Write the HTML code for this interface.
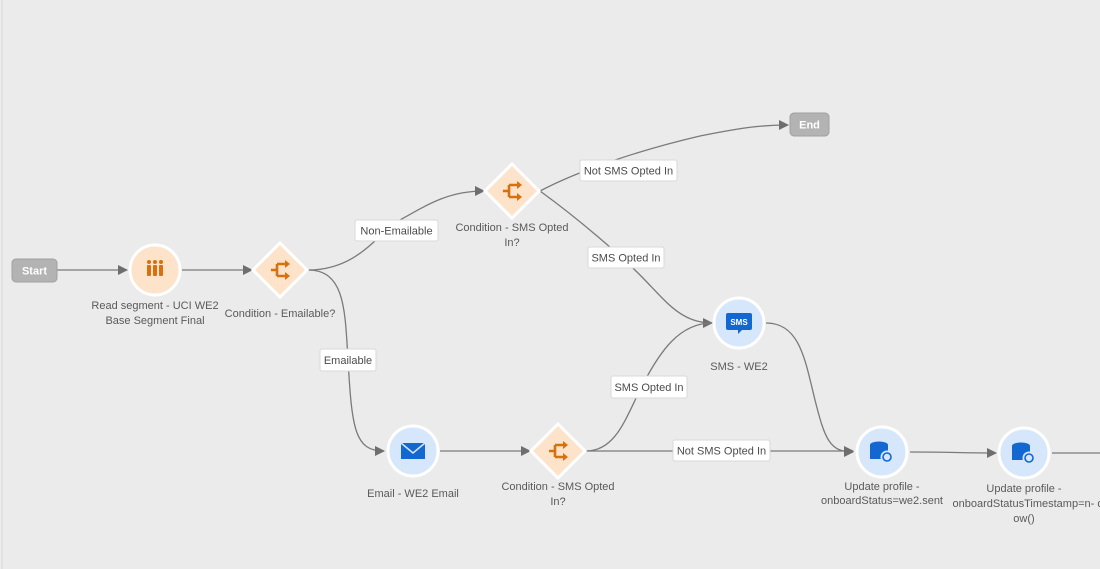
<!DOCTYPE html>
<html><head><style>
body{margin:0;width:1100px;height:569px;background:#ebebeb;overflow:hidden;font-family:"Liberation Sans",sans-serif;}
svg{position:absolute;left:0;top:0}
.t{font-size:11px;fill:#5a5a5a;text-anchor:middle}
.lb{fill:#fff;stroke:#d8d8d8;stroke-width:1}
.lt{font-size:11px;fill:#4b4b4b;text-anchor:middle}
</style></head><body>
<svg width="1100" height="569" viewBox="0 0 1100 569">
<defs><marker id="a" markerWidth="10" markerHeight="10" refX="9" refY="5" orient="auto" markerUnits="userSpaceOnUse"><path d="M0,0 L10,5 L0,10z" fill="#6e6e6e"/></marker>
<g id="d"><path d="M0,-27 L27,0 L0,27 L-27,0z" fill="#fce3c9" stroke="#fff" stroke-width="3"/><path d="M-9,0 H-3 M-3,-6 V6 M-3,-6 H7 M-3,6 H7" stroke="#d8700f" stroke-width="2.6" fill="none"/><path d="M5,-10 L10,-6 L5,-2z M5,2 L10,6 L5,10z" fill="#d8700f"/></g>
<g id="u"><circle r="25" fill="#d6e6fb" stroke="#fff" stroke-width="3"/><ellipse cx="-3" cy="-7" rx="9" ry="3.5" fill="#1367d1"/><rect x="-12" y="-7" width="18" height="14" fill="#1367d1"/><circle cx="5" cy="5" r="6.5" fill="#d6e6fb"/><circle cx="5" cy="5" r="4" fill="none" stroke="#1367d1" stroke-width="1.6"/></g>
</defs>
<line x1="2" y1="0" x2="2" y2="569" stroke="#e2e2e2" stroke-width="2"/>
<g fill="none" stroke="#7a7a7a" stroke-width="1.3">
<path d="M57,270 H127" marker-end="url(#a)"/>
<path d="M182,270 H252" marker-end="url(#a)"/>
<path d="M308,270 C360,270 380,230 400,220 C430,203 450,191 484,191" marker-end="url(#a)"/>
<path d="M308,270 C345,270 345,310 348,360 C352,430 355,451 384,451" marker-end="url(#a)"/>
<path d="M540,191 C580,170 640,150 700,136 C740,128 760,125 788,125" marker-end="url(#a)"/>
<path d="M540,191 C580,220 620,255 640,275 C665,300 680,323 712,323" marker-end="url(#a)"/>
<path d="M440,451 H530" marker-end="url(#a)"/>
<path d="M586,451 C615,451 625,420 640,390 C660,350 680,323 712,323"/>
<path d="M586,451 H853" marker-end="url(#a)"/>
<path d="M766,323 C800,323 805,360 815,400 C825,440 830,452 853,452" marker-end="url(#a)"/>
<path d="M910,452 C950,452 960,453 996,453" marker-end="url(#a)"/>
<path d="M1052,453 H1100"/>
</g>
<rect x="12" y="259" width="45" height="23" rx="4" fill="#b3b3b3" stroke="#a0a0a0"/>
<text x="34.5" y="274.5" font-size="11" font-weight="bold" fill="#fff" text-anchor="middle">Start</text>
<rect x="790" y="113" width="39" height="23" rx="4" fill="#b3b3b3" stroke="#a0a0a0"/>
<text x="809.5" y="128.5" font-size="11" font-weight="bold" fill="#fff" text-anchor="middle">End</text>
<circle cx="155" cy="270" r="25" fill="#fce3c9" stroke="#fff" stroke-width="3"/>
<g fill="#d8700f"><rect x="147" y="265" width="4" height="11" rx="1"/><rect x="153" y="265" width="4" height="11" rx="1"/><rect x="159" y="265" width="4" height="11" rx="1"/><circle cx="149" cy="262" r="2"/><circle cx="155" cy="262" r="2"/><circle cx="161" cy="262" r="2"/></g>
<text class="t" x="155" y="309">Read segment - UCI WE2</text><text class="t" x="155" y="324">Base Segment Final</text>
<use href="#d" transform="translate(280,270)"/>
<use href="#d" transform="translate(512,191)"/>
<use href="#d" transform="translate(558,451)"/>
<text class="t" x="280" y="317">Condition - Emailable?</text>
<text class="t" x="512" y="231">Condition - SMS Opted</text><text class="t" x="512" y="246">In?</text>
<text class="t" x="558" y="490">Condition - SMS Opted</text><text class="t" x="558" y="505">In?</text>
<circle cx="739" cy="323" r="25" fill="#d6e6fb" stroke="#fff" stroke-width="3"/>
<path d="M728,313 h22 a2,2 0 0 1 2,2 v13 a2,2 0 0 1 -2,2 h-8 l-4,4 v-4 h-10 a2,2 0 0 1 -2,-2 v-13 a2,2 0 0 1 2,-2z" fill="#1367d1"/>
<text x="739" y="325" font-size="8" font-weight="bold" fill="#fff" text-anchor="middle">SMS</text>
<text class="t" x="739" y="370">SMS - WE2</text>
<circle cx="413" cy="451" r="25" fill="#d6e6fb" stroke="#fff" stroke-width="3"/>
<rect x="401" y="443" width="24" height="16" fill="#1367d1"/><path d="M401,443 L413,453 L425,443" stroke="#d6e6fb" stroke-width="1.5" fill="none"/>
<text class="t" x="413" y="497">Email - WE2 Email</text>
<use href="#u" transform="translate(882,452)"/>
<use href="#u" transform="translate(1024,453)"/>
<text class="t" x="882" y="490">Update profile -</text><text class="t" x="882" y="504">onboardStatus=we2.sent</text>
<text class="t" x="1024" y="492">Update profile -</text><text class="t" x="1028" y="507">onboardStatusTimestamp=n- o</text><text class="t" x="1024" y="522">ow()</text>
<rect class="lb" x="355" y="220" width="83" height="21" rx="2"/><text class="lt" x="396.5" y="234.5">Non-Emailable</text>
<rect class="lb" x="320" y="349" width="56" height="22" rx="2"/><text class="lt" x="348" y="364">Emailable</text>
<rect class="lb" x="580" y="160" width="97" height="21" rx="2"/><text class="lt" x="628.5" y="174.5">Not SMS Opted In</text>
<rect class="lb" x="588" y="247" width="76" height="21" rx="2"/><text class="lt" x="626" y="261.5">SMS Opted In</text>
<rect class="lb" x="611" y="376" width="76" height="22" rx="2"/><text class="lt" x="649" y="391">SMS Opted In</text>
<rect class="lb" x="673" y="440" width="97" height="21" rx="2"/><text class="lt" x="721.5" y="454.5">Not SMS Opted In</text>
</svg>
</body></html>
